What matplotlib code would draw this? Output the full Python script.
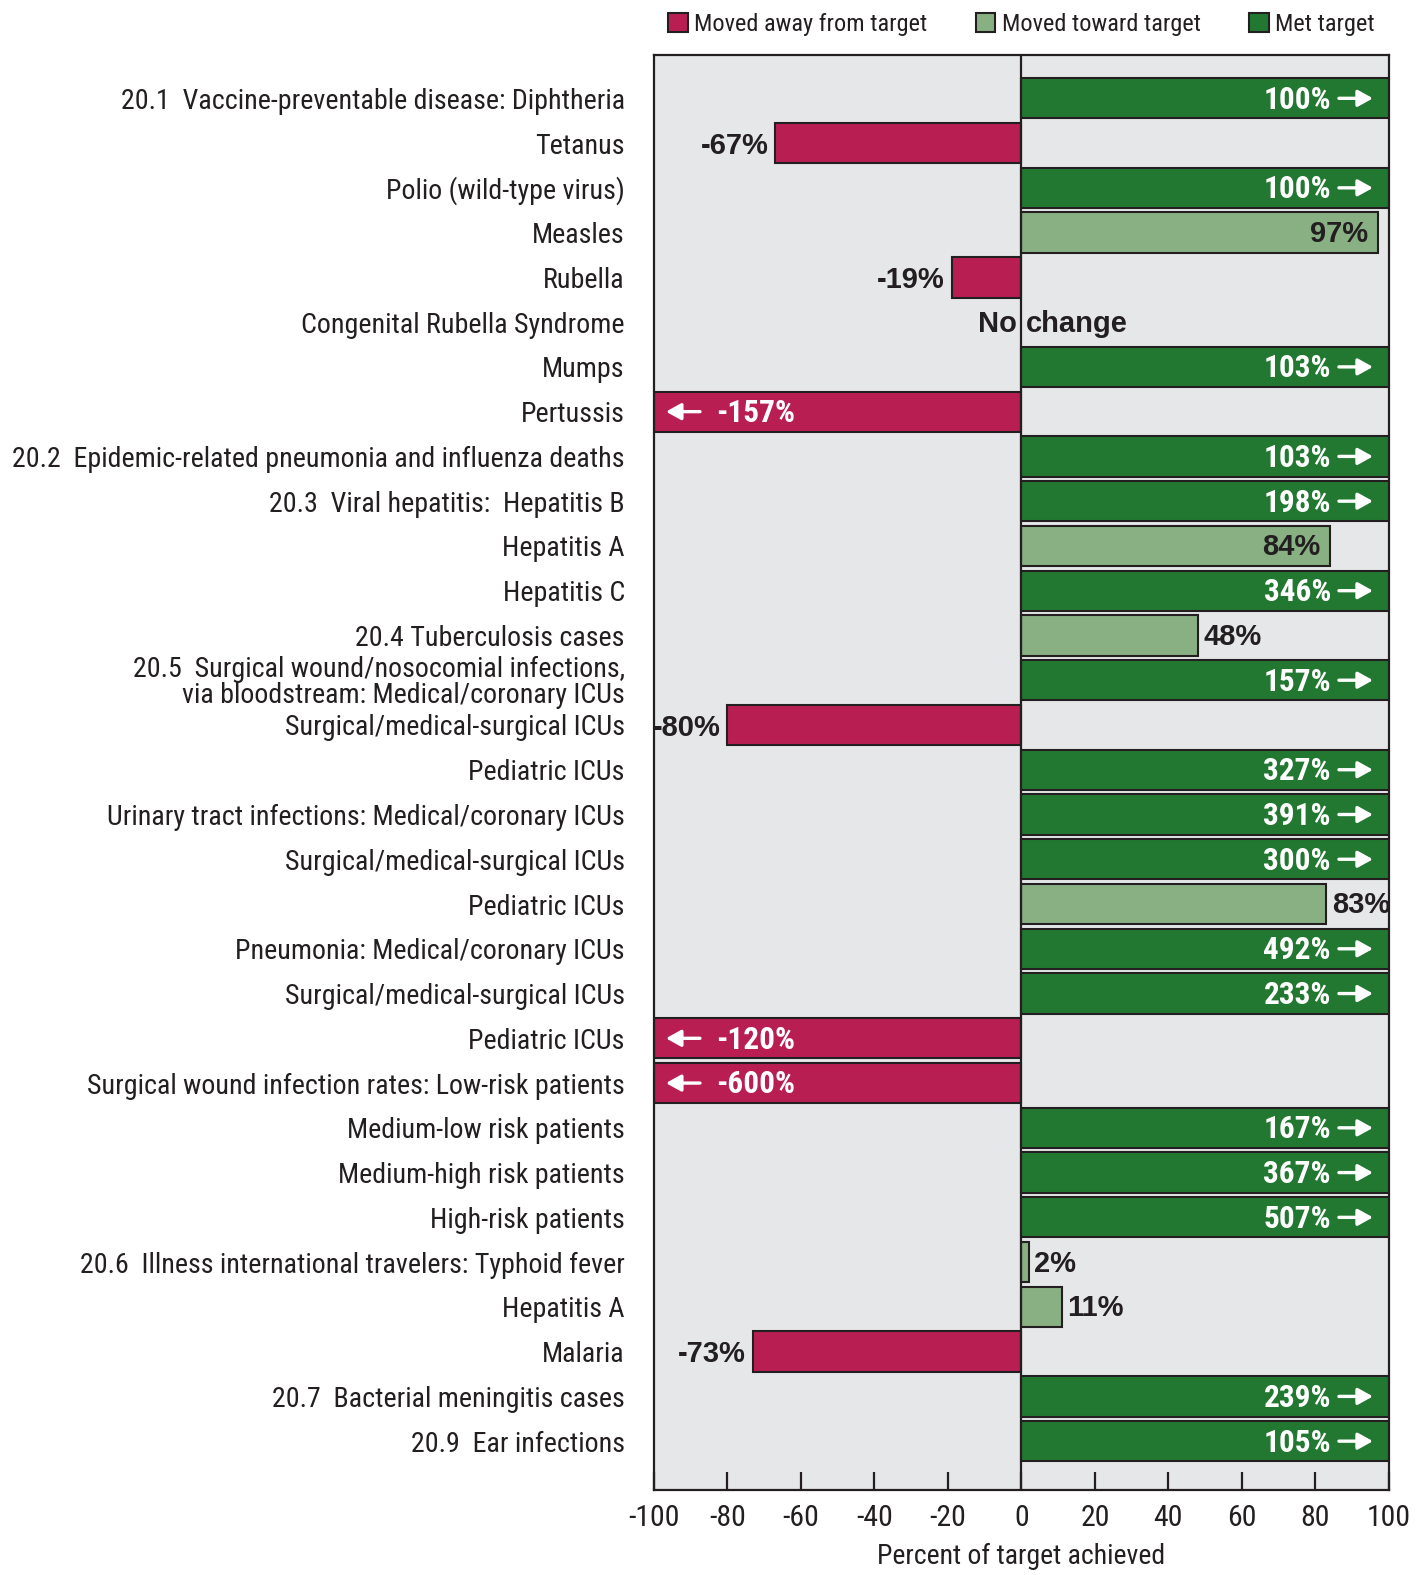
import matplotlib
matplotlib.use("Agg")
import matplotlib.pyplot as plt
from matplotlib import font_manager as fm
from matplotlib.patches import Patch
from matplotlib.transforms import offset_copy

# ---- data -------------------------------------------------------------
categories = [
    "20.1  Vaccine-preventable disease: Diphtheria",
    "Tetanus",
    "Polio (wild-type virus)",
    "Measles",
    "Rubella",
    "Congenital Rubella Syndrome",
    "Mumps",
    "Pertussis",
    "20.2  Epidemic-related pneumonia and influenza deaths",
    "20.3  Viral hepatitis:  Hepatitis B",
    "Hepatitis A",
    "Hepatitis C",
    "20.4 Tuberculosis cases",
    "20.5  Surgical wound/nosocomial infections,\nvia bloodstream: Medical/coronary ICUs",
    "Surgical/medical-surgical ICUs",
    "Pediatric ICUs",
    "Urinary tract infections: Medical/coronary ICUs",
    "Surgical/medical-surgical ICUs",
    "Pediatric ICUs",
    "Pneumonia: Medical/coronary ICUs",
    "Surgical/medical-surgical ICUs",
    "Pediatric ICUs",
    "Surgical wound infection rates: Low-risk patients",
    "Medium-low risk patients",
    "Medium-high risk patients",
    "High-risk patients",
    "20.6  Illness international travelers: Typhoid fever",
    "Hepatitis A",
    "Malaria",
    "20.7  Bacterial meningitis cases",
    "20.9  Ear infections",
]

percent_achieved = [100, -67, 100, 97, -19, 0, 103, -157, 103, 198, 84, 346,
                    48, 157, -80, 327, 391, 300, 83, 492, 233, -120, -600,
                    167, 367, 507, 2, 11, -73, 239, 105]

# "away" = moved away from target, "toward" = moved toward target,
# "met" = met target, "none" = no change
status = ["met", "away", "met", "toward", "away", "none", "met", "away", "met",
          "met", "toward", "met", "toward", "met", "away", "met", "met", "met",
          "toward", "met", "met", "away", "away", "met", "met", "met",
          "toward", "toward", "away", "met", "met"]

# where the value label of a "moved toward" bar sits
toward_label_inside = {3: True, 10: True, 12: False, 18: False, 26: False, 27: False}

status_names = ["Moved away from target", "Moved toward target", "Met target"]
x_ticks = [-100, -80, -60, -40, -20, 0, 20, 40, 60, 80, 100]
x_title = "Percent of target achieved"

# ---- style ------------------------------------------------------------
RED = "#b81e52"
LIGHT_GREEN = "#88b083"
DARK_GREEN = "#227831"
EDGE = "#231f20"
BG = "#e6e7e9"
INK = "#231f20"
colors = {"away": RED, "toward": LIGHT_GREEN, "met": DARK_GREEN, "none": BG}

available = {f.name for f in fm.fontManager.ttflist}
def pick(*names):
    for n in names:
        if n in available:
            return n
    return "DejaVu Sans"

NARROW = pick("Liberation Sans Narrow", "DejaVu Sans Condensed", "Roboto Condensed", "Liberation Sans")
REGULAR = pick("Liberation Sans", "Arial", "DejaVu Sans")
narrow_fam = [NARROW, "DejaVu Sans"]
bold_fam = [REGULAR, "DejaVu Sans"]

DPI = 100
fig = plt.figure(figsize=(14.26, 15.75), dpi=DPI)
ax = fig.add_axes([0.4586, 0.054, 0.5154, 0.911])
ax.set_facecolor(BG)

n = len(categories)
ypos = list(range(n))
clipped = [max(-100, min(100, v)) for v in percent_achieved]
bar_colors = [colors[s] for s in status]

bars = ax.barh(ypos, clipped, height=0.9, color=bar_colors,
               edgecolor=EDGE, linewidth=1.5, zorder=2)
for b, s in zip(bars, status):
    if s == "none":
        b.set_visible(False)

ax.set_xlim(-100, 100)
ax.set_ylim(31.09, -0.965)

# zero line on top of the bars
ax.axvline(0, color=EDGE, linewidth=1.6, zorder=4)

# category labels
ax.set_yticks(ypos)
ax.set_yticklabels(categories, fontsize=20.2, color=INK, family=narrow_fam,
                   linespacing=0.95)
ax.tick_params(axis="y", length=0, pad=21)
for lab in ax.get_yticklabels():
    lab.set_horizontalalignment("right")

# value labels
VAL = 21
WHITE_VAL = 22.5
PX = 72.0 / DPI  # points per pixel
arrow_props = dict(arrowstyle="-|>,head_length=0.45,head_width=0.25",
                   color="white", lw=2.4, shrinkA=0, shrinkB=0,
                   mutation_scale=20)
right_tip = offset_copy(ax.transData, fig=fig, x=-16, y=0, units="dots")
left_tip = offset_copy(ax.transData, fig=fig, x=12, y=0, units="dots")

for i, (v, c, s) in enumerate(zip(percent_achieved, clipped, status)):
    txt = f"{v}%"
    if s == "met":
        ax.annotate(txt, xy=(100, i), xytext=(-58 * PX, -1),
                    textcoords="offset points", ha="right", va="center",
                    color="white", fontsize=WHITE_VAL, fontweight="bold",
                    family=narrow_fam, zorder=5)
        ax.annotate("", xy=(100, i), xycoords=right_tip,
                    xytext=(-34 * PX, 0), textcoords="offset points",
                    arrowprops=arrow_props, zorder=5)
    elif s == "away" and v < -100:
        ax.annotate(txt, xy=(-100, i), xytext=(62 * PX, -1),
                    textcoords="offset points", ha="left", va="center",
                    color="white", fontsize=WHITE_VAL, fontweight="bold",
                    family=narrow_fam, zorder=5)
        ax.annotate("", xy=(-100, i), xycoords=left_tip,
                    xytext=(34 * PX, 0), textcoords="offset points",
                    arrowprops=arrow_props, zorder=5)
    elif s == "away":
        ax.annotate(txt, xy=(c, i), xytext=(-5, -2),
                    textcoords="offset points", ha="right", va="center",
                    color=INK, fontsize=VAL, fontweight="bold",
                    family=bold_fam, zorder=5)
    elif s == "toward":
        if toward_label_inside.get(i, False):
            ax.annotate(txt, xy=(c, i), xytext=(-7, -1),
                        textcoords="offset points", ha="right", va="center",
                        color=INK, fontsize=VAL, fontweight="bold",
                        family=bold_fam, zorder=5)
        else:
            ax.annotate(txt, xy=(c, i), xytext=(4, -1),
                        textcoords="offset points", ha="left", va="center",
                        color=INK, fontsize=VAL, fontweight="bold",
                        family=bold_fam, zorder=5)
    else:
        ax.annotate("No", xy=(0, i), xytext=(-3, -1),
                    textcoords="offset points", ha="right", va="center",
                    color=INK, fontsize=VAL, fontweight="bold",
                    family=bold_fam, zorder=3)
        ax.annotate("change", xy=(0, i), xytext=(3, -1),
                    textcoords="offset points", ha="left", va="center",
                    color=INK, fontsize=VAL, fontweight="bold",
                    family=bold_fam, zorder=3)

# x axis
ax.set_xticks(x_ticks)
ax.set_xticklabels([str(t) for t in x_ticks], fontsize=21.5, color=INK,
                   family=narrow_fam)
ax.tick_params(axis="x", direction="in", length=13, width=1.6, color=EDGE,
               pad=10, top=False)
ax.set_xlabel(x_title, fontsize=20, color=INK, family=narrow_fam, labelpad=8)

for sp in ax.spines.values():
    sp.set_color(EDGE)
    sp.set_linewidth(1.6)

# legend
handles = [Patch(facecolor=RED, edgecolor=EDGE, linewidth=1.5),
           Patch(facecolor=LIGHT_GREEN, edgecolor=EDGE, linewidth=1.5),
           Patch(facecolor=DARK_GREEN, edgecolor=EDGE, linewidth=1.5)]
leg = ax.legend(handles, status_names, loc="lower center",
                bbox_to_anchor=(0.5, 1.003), ncol=3, frameon=False,
                prop={"family": narrow_fam, "size": 17.6},
                handlelength=0.8, handleheight=0.8, handletextpad=0.25,
                columnspacing=2.0, borderaxespad=0.2)
for t in leg.get_texts():
    t.set_color(INK)

fig.savefig("out.png", dpi=DPI, facecolor="white")
